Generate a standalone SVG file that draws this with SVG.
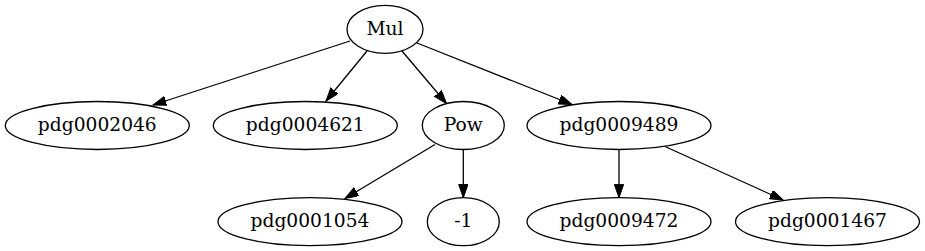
<svg xmlns="http://www.w3.org/2000/svg" width="925" height="251" viewBox="0 0 925 251">
<style>
.n ellipse{fill:none;stroke:#000;stroke-width:1.3}
.n text{font-family:"DejaVu Serif","Liberation Serif",serif;font-size:18.67px;text-anchor:middle;fill:#000}
.e line{stroke:#000;stroke-width:1.3;marker-end:url(#ah)}
</style>
<defs>
<marker id="ah" markerUnits="userSpaceOnUse" markerWidth="14" markerHeight="10" refX="13.3" refY="4.67" orient="auto">
<path d="M0,0 L13.3,4.67 L0,9.33 z" fill="#000" stroke="#000" stroke-width="1"/>
</marker>
</defs>
<rect width="925" height="251" fill="#fff"/>
<g id="connectors" class="e">
<line x1="350" y1="41" x2="153" y2="105"/>
<line x1="367" y1="51" x2="326" y2="101"/>
<line x1="402" y1="51" x2="446.5" y2="103.5"/>
<line x1="417" y1="43" x2="572" y2="104.5"/>
<line x1="435" y1="144.5" x2="345" y2="198.5"/>
<line x1="463.3" y1="149.5" x2="463.3" y2="197.7"/>
<line x1="619" y1="149.5" x2="619" y2="197.7"/>
<line x1="665" y1="146.5" x2="783" y2="200"/>
</g>
<g id="Mul" class="n"><ellipse cx="385" cy="29.3" rx="38" ry="24"/><text x="385" y="35">Mul</text></g>
<g id="pdg0002046" class="n"><ellipse cx="97.3" cy="125.5" rx="92" ry="24"/><text x="97.3" y="131.2">pdg0002046</text></g>
<g id="pdg0004621" class="n"><ellipse cx="305.3" cy="125.5" rx="92" ry="24"/><text x="305.3" y="131.2">pdg0004621</text></g>
<g id="Pow" class="n"><ellipse cx="463.3" cy="125.5" rx="41" ry="24"/><text x="463.3" y="131.2">Pow</text></g>
<g id="pdg0009489" class="n"><ellipse cx="619" cy="125.5" rx="92" ry="24"/><text x="619" y="131.2">pdg0009489</text></g>
<g id="pdg0001054" class="n"><ellipse cx="310" cy="221.7" rx="92" ry="24"/><text x="310" y="227.4">pdg0001054</text></g>
<g id="neg1" class="n"><ellipse cx="463.3" cy="221.7" rx="36" ry="24"/><text x="463.3" y="227.4">-1</text></g>
<g id="pdg0009472" class="n"><ellipse cx="619" cy="221.7" rx="92" ry="24"/><text x="619" y="227.4">pdg0009472</text></g>
<g id="pdg0001467" class="n"><ellipse cx="827.5" cy="221.7" rx="92" ry="24"/><text x="827.5" y="227.4">pdg0001467</text></g>
</svg>
